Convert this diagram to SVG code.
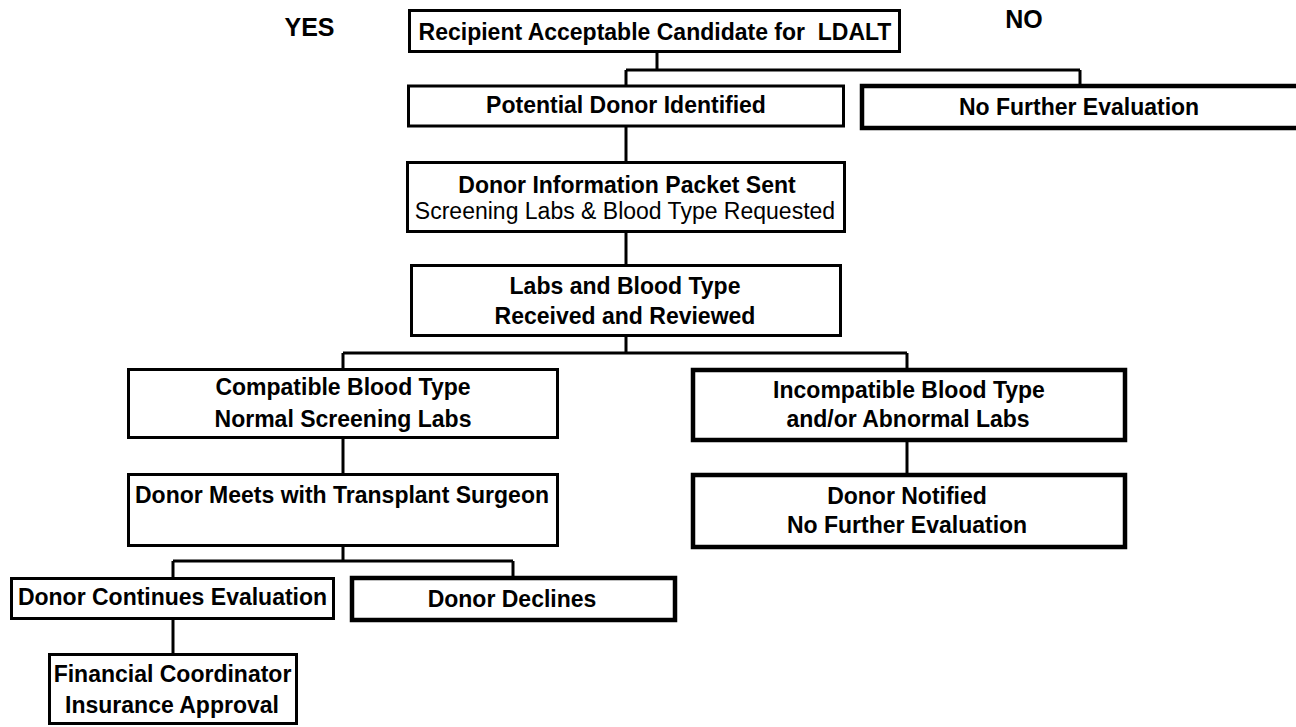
<svg xmlns="http://www.w3.org/2000/svg" width="1296" height="727" viewBox="0 0 1296 727">
<style>
.box{fill:#fff;stroke:#000;stroke-width:3}
.thick{stroke-width:4.5}
.t{font-family:"Liberation Sans",Arial,sans-serif;font-size:23px;font-weight:bold;fill:#000;text-anchor:middle;white-space:pre}
.r{font-weight:normal}
.lbl{font-family:"Liberation Sans",Arial,sans-serif;font-size:25px;font-weight:bold;fill:#000;text-anchor:middle}
.c{fill:none;stroke:#000;stroke-width:3}
</style>
<rect width="1296" height="727" fill="#fff"/>
<text class="lbl" x="309.5" y="36">YES</text>
<text class="lbl" x="1024" y="28">NO</text>
<g id="connectors">
<path class="c" d="M657,53V70M626,70H1080M626,70V85M1080,70V84"/>
<path class="c" d="M626,127V161"/>
<path class="c" d="M626,233V264"/>
<path class="c" d="M626,337V353M343,353H907M343,353V368M907,353V368"/>
<path class="c" d="M343,439V473"/>
<path class="c" d="M907,442V473"/>
<path class="c" d="M343,547V561M173,561H513M173,561V577M513,561V576"/>
<path class="c" d="M173,620V653"/>
</g>
<g id="n1"><rect class="box" x="409.5" y="10.5" width="490" height="41"/><text class="t" x="655" y="40" xml:space="preserve">Recipient Acceptable Candidate for  LDALT</text></g>
<g id="n2"><rect class="box" x="408.5" y="86" width="435" height="40"/><text class="t" x="626" y="113">Potential Donor Identified</text></g>
<g id="n3"><rect class="box thick" x="862" y="86" width="440" height="42"/><text class="t" x="1079" y="115">No Further Evaluation</text></g>
<g id="n4"><rect class="box" x="407.5" y="162.5" width="437" height="69"/><text class="t" x="627" y="193">Donor Information Packet Sent</text><text class="t r" x="625" y="219">Screening Labs &amp; Blood Type Requested</text></g>
<g id="n5"><rect class="box" x="411.5" y="265.5" width="429" height="70"/><text class="t" x="625" y="294">Labs and Blood Type</text><text class="t" x="625" y="324">Received and Reviewed</text></g>
<g id="n6"><rect class="box" x="128.5" y="369.5" width="429" height="68"/><text class="t" x="343" y="395">Compatible Blood Type</text><text class="t" x="343" y="427">Normal Screening Labs</text></g>
<g id="n7"><rect class="box thick" x="693" y="370" width="432" height="70"/><text class="t" x="909" y="398">Incompatible Blood Type</text><text class="t" x="908" y="427">and/or Abnormal Labs</text></g>
<g id="n8"><rect class="box" x="128.5" y="474.5" width="429" height="71"/><text class="t" x="342" y="503">Donor Meets with Transplant Surgeon</text></g>
<g id="n9"><rect class="box thick" x="693" y="475" width="432" height="72"/><text class="t" x="907" y="504">Donor Notified</text><text class="t" x="907" y="533">No Further Evaluation</text></g>
<g id="n10"><rect class="box" x="11.5" y="578.5" width="322" height="40"/><text class="t" x="172.5" y="605">Donor Continues Evaluation</text></g>
<g id="n11"><rect class="box thick" x="352" y="578" width="323" height="42"/><text class="t" x="512" y="607">Donor Declines</text></g>
<g id="n12"><rect class="box" x="49.5" y="654.5" width="247" height="69"/><text class="t" x="172.5" y="682">Financial Coordinator</text><text class="t" x="172" y="713">Insurance Approval</text></g>
</svg>
